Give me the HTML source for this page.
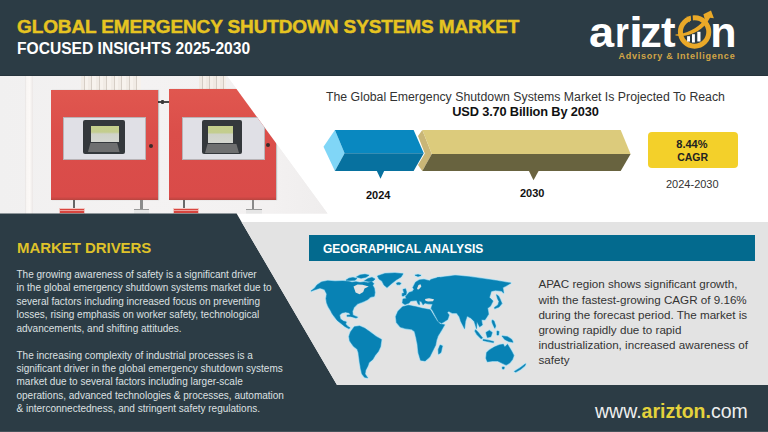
<!DOCTYPE html>
<html><head><meta charset="utf-8">
<style>
*{margin:0;padding:0;box-sizing:border-box}
html,body{width:768px;height:432px;overflow:hidden;background:#fff}
body{position:relative;font-family:"Liberation Sans",Arial,sans-serif}
.abs{position:absolute}
.lg{position:absolute;top:10.5px;font-size:43px;font-weight:700;color:#fff;line-height:1;transform-origin:0 0;white-space:nowrap}
.t{position:absolute;white-space:nowrap;line-height:1}
#hdr{left:0;top:0;width:768px;height:76px;background:#2c3c45}
#title1{left:17px;top:17px;font-size:19px;letter-spacing:-0.12px;-webkit-text-stroke:0.45px #e6c421;font-weight:700;color:#e6c421}
#title2{left:17px;top:40.5px;font-size:15.6px;font-weight:700;color:#fff}
#photo{left:0;top:76px;width:340px;height:138px;clip-path:polygon(0 0,227px 0,327.5px 137.5px,0 138px);background:#f1efef;overflow:hidden}
#dark{left:0;top:0;width:768px;height:432px;background:#2c3c45;clip-path:polygon(0 213.5px,236.6px 213.5px,337px 385px,768px 385px,768px 432px,0 432px)}
#gray{left:0;top:0;width:768px;height:432px;background:#e3e3e3;clip-path:polygon(241.6px 222px,768px 222px,768px 385px,337px 385px)}
#geohdr{left:309px;top:234.8px;width:446px;height:26.2px;background:#036a8e}
#geohdr span{position:absolute;left:14px;top:8.3px;font-size:12px;font-weight:700;color:#fff;line-height:1}
.para{position:absolute;left:16.5px;font-size:10px;color:#dde0e2;line-height:13.45px;white-space:nowrap}
#md{left:17px;top:239.6px;font-size:15px;letter-spacing:-0.05px;font-weight:700;color:#dfc22a}
.geo{position:absolute;left:538.4px;top:276.3px;font-size:11.65px;color:#333;line-height:15.2px;white-space:nowrap}
#proj1{left:326px;top:91.4px;font-size:12.3px;color:#333}
#proj2{left:452.2px;top:106.2px;font-size:12.8px;letter-spacing:-0.15px;font-weight:700;color:#111}
#cagr{left:647.6px;top:132px;width:90.4px;height:36px;background:#f3d02a;border-radius:4px}
#footer-url{left:595px;top:402.3px;font-size:19.5px;color:#eee}
#footer-url b{color:#e4d23c}
</style></head>
<body>
<div id="hdr" class="abs"></div>
<div class="abs" style="left:0;top:75px;width:768px;height:1px;background:#26343c"></div>
<div id="title1" class="t">GLOBAL EMERGENCY SHUTDOWN SYSTEMS MARKET</div>
<div id="title2" class="t">FOCUSED INSIGHTS 2025-2030</div>

<!-- logo -->
<div class="lg" style="left:588.7px;transform:scaleX(1.05)">a</div>
<div class="lg" style="left:615.2px;transform:scaleX(0.83)">r</div>
<div class="lg" style="left:628.75px;transform:scaleX(1.17)">i</div>
<div class="lg" style="left:640.2px">z</div>
<div class="lg" style="left:660.5px;transform:scaleX(1.02)">t</div>
<div class="lg" style="left:710.3px">n</div>
<svg class="abs" style="left:668px;top:0" width="52" height="52" viewBox="668 0 52 52">
  <circle cx="694.6" cy="32" r="14.2" fill="none" stroke="#eaa928" stroke-width="5"/>
  <polygon points="690.6,14 692.6,14 693,21.5 691.2,21.5" fill="#2c3c45"/>
  <polygon points="686.5,16.5 690.8,17.5 689.5,22.5" fill="#eaa928"/>
  <rect x="687.1" y="36.2" width="2.9" height="5.4" fill="#fff"/>
  <rect x="692" y="34.2" width="2.9" height="8.3" fill="#fff"/>
  <rect x="697.3" y="31.8" width="3.2" height="9.7" fill="#fff"/>
  <path d="M675.5 34.6 C686 33.8 697 29.2 704.8 19.6 L703.4 14.2 L711 10.6 L713.9 18.3 L710 17.8 C703 31.5 689 37.6 675.5 35.6Z" fill="#eaa928"/>
</svg>
<div class="t" style="left:618.4px;top:51.8px;font-size:9px;font-weight:700;color:#d3a645;letter-spacing:0.76px">Advisory &amp; Intelligence</div>

<!-- photo -->
<div id="photo" class="abs">
  <div class="abs" style="left:0;top:0;width:340px;height:138px;background:linear-gradient(90deg,#f1f0f0 0,#f4f2f2 40%,#f3f1f1 80%,#eeecec 100%)"></div>
  <div class="abs" style="left:25.2px;top:0;width:7.4px;height:138px;background:linear-gradient(90deg,#e6e3e2 0,#f9f6f4 20%,#fcf9f7 60%,#ebe7e6 100%)"></div>
  <!-- pipes top -->
  <div class="abs" style="left:81px;top:0;width:60px;height:14px;background:repeating-linear-gradient(90deg,#f1ebe5 0 3px,#d6cec6 3px 4px,#f7f2ed 4px 7.5px)"></div>
  <div class="abs" style="left:198.5px;top:0;width:27.5px;height:14px;background:repeating-linear-gradient(90deg,#f0e9e2 0 3px,#d3cbc3 3px 4px,#f5efe9 4px 7px)"></div>
  <!-- clip between panels -->
  <div class="abs" style="left:158px;top:25px;width:11.5px;height:2px;background:#4a4a4a"></div><div class="abs" style="left:160.5px;top:23.8px;width:3px;height:4.4px;background:#3a3a3a;border-radius:1px"></div>
  <!-- panel 1 -->
  <div class="abs" style="left:50.5px;top:14px;width:107.5px;height:110px;background:linear-gradient(180deg,#e0574f 0,#db4e4a 40%,#d94b49 97%,#b9443f 100%);box-shadow:1px 0 1px rgba(0,0,0,.2)"></div>
  <div class="abs" style="left:62.5px;top:40.7px;width:83.5px;height:43.5px;background:#e0e0e6;border:1px solid #b9b3b6"></div>
  <div class="abs" style="left:83px;top:44.2px;width:41.6px;height:33.5px;background:#34383c;border-radius:2px"></div>
  <div class="abs" style="left:90.9px;top:49.6px;width:28px;height:16.3px;background:linear-gradient(180deg,#c6d08c 0,#c3cd8e 38%,#cfd2c9 50%,#d4d6d0 100%)"></div>
  <div class="abs" style="left:88px;top:66.5px;width:31.6px;height:9.5px;background:#6e6f70;clip-path:polygon(8% 0,92% 0,100% 100%,0 100%)"></div>
  <div class="abs" style="left:148.5px;top:67.5px;width:4px;height:4px;border-radius:50%;background:#3a2a2a"></div>
  <!-- bottom items panel1 -->
  <div class="abs" style="left:72.6px;top:124px;width:2.6px;height:8px;background:#666"></div>
  <div class="abs" style="left:58.7px;top:131.6px;width:26.6px;height:6.4px;background:linear-gradient(180deg,#d8453f 0 30%,#eaa29d 30% 62%,#d8453f 62%);border:1px solid #f0c4c0"></div>
  <div class="abs" style="left:139.5px;top:124px;width:3px;height:9px;background:#8c8c8c"></div>
  <div class="abs" style="left:133.7px;top:133px;width:15.7px;height:5px;background:#e6e6e6;border-top:1px solid #9a9a9a"></div>
  <!-- panel 2 -->
  <div class="abs" style="left:169.4px;top:13.4px;width:107px;height:110.5px;background:linear-gradient(180deg,#e0574f 0,#db4e4a 40%,#d94b49 97%,#b9443f 100%);box-shadow:1px 0 1px rgba(0,0,0,.2)"></div>
  <div class="abs" style="left:182.1px;top:40.9px;width:83.1px;height:42.8px;background:#e0e0e6;border:1px solid #b9b3b6"></div>
  <div class="abs" style="left:202.3px;top:44.1px;width:39.6px;height:34.1px;background:#34383c;border-radius:2px"></div>
  <div class="abs" style="left:207.7px;top:49.5px;width:25.5px;height:17.5px;background:linear-gradient(180deg,#c6d08c 0,#c3cd8e 38%,#cfd2c9 50%,#d4d6d0 100%)"></div>
  <div class="abs" style="left:205px;top:67.5px;width:34px;height:9.5px;background:#6e6f70;clip-path:polygon(8% 0,92% 0,100% 100%,0 100%)"></div>
  <div class="abs" style="left:266.4px;top:66.7px;width:4px;height:4px;border-radius:50%;background:#3a2a2a"></div>
  <div class="abs" style="left:182.8px;top:124px;width:2.6px;height:8px;background:#6a6a6a"></div>
  <div class="abs" style="left:172.8px;top:131.6px;width:26.6px;height:6.4px;background:linear-gradient(180deg,#d8453f 0 30%,#eaa29d 30% 62%,#d8453f 62%);border:1px solid #f0c4c0"></div>
  <div class="abs" style="left:251.5px;top:124px;width:2.5px;height:9px;background:#8a8a8a"></div>
  <div class="abs" style="left:246px;top:133px;width:16px;height:5px;background:#e6e6e6;border-top:1px solid #9a9a9a"></div>
</div>

<div id="dark" class="abs"></div>
<div id="gray" class="abs"></div>

<!-- projection -->
<div id="proj1" class="t">The Global Emergency Shutdown Systems Market Is Projected To Reach</div>
<div id="proj2" class="t">USD 3.70 Billion By 2030</div>

<svg class="abs" style="left:0;top:0" width="768" height="432" viewBox="0 0 768 432">
  <!-- blue arrow -->
  <polygon points="323.5,146.7 334.9,129.9 344.6,153.3 334.9,170.9" fill="#80d6f7"/>
  <polygon points="334.9,129.9 413.6,129.9 423.8,153.3 344.6,153.3" fill="#0988c0"/>
  <polygon points="344.6,153.3 423.8,153.3 413.6,170.9 334.9,170.9" fill="#07719f"/>
  <polygon points="376.6,170.6 384.4,170.6 380.5,178.7" fill="#07719f"/>
  <!-- gold arrow -->
  <polygon points="418,136 422.3,129.9 431.8,154.1 422.3,170.9 418,165 424.8,153.5" fill="#c9b677"/>
  <polygon points="422.3,129.9 620.7,129.9 630.6,154.1 431.8,154.1" fill="#dccb7c"/>
  <polygon points="431.8,154.1 630.6,154.1 620.7,170.9 422.3,170.9" fill="#68633f"/>
  <polygon points="528.7,170.6 538.9,170.6 533.5,180.2" fill="#6b6440"/>
</svg>
<div class="t" style="left:366px;top:190px;font-size:11px;font-weight:700;color:#111">2024</div>
<div class="t" style="left:520px;top:188px;font-size:11px;font-weight:700;color:#111">2030</div>
<div id="cagr" class="abs"></div>
<div class="t" style="left:676.3px;top:139px;font-size:11px;font-weight:700;color:#222">8.44%</div>
<div class="t" style="left:677.2px;top:152.3px;font-size:10.5px;font-weight:700;color:#222">CAGR</div>
<div class="t" style="left:666px;top:179px;font-size:11px;color:#333">2024-2030</div>

<!-- market drivers -->
<div id="md" class="t">MARKET DRIVERS</div>
<div class="para" style="top:267.8px">The growing awareness of safety is a significant driver<br>in the global emergency shutdown systems market due to<br>several factors including increased focus on preventing<br>losses, rising emphasis on worker safety, technological<br>advancements, and shifting attitudes.</div>
<div class="para" style="top:348.5px;line-height:13.36px">The increasing complexity of industrial processes is a<br>significant driver in the global emergency shutdown systems<br>market due to several factors including larger-scale<br>operations, advanced technologies &amp; processes, automation<br>&amp; interconnectedness, and stringent safety regulations.</div>

<!-- geo -->
<div id="geohdr" class="abs"><span>GEOGRAPHICAL ANALYSIS</span></div>
<!-- MAP -->
<svg class="abs" style="left:0;top:0" width="768" height="432" viewBox="0 0 768 432">
  <path d="M311.0,291.1 L314.8,288.0 L317.0,285.0 L321.5,282.0 L327.5,280.8 L335.1,281.3 L342.6,281.0 L347.5,281.2 L352.0,282.3 L356.0,281.8 L360.0,282.6 L364.0,282.0 L368.0,282.8 L371.5,281.5 L373.8,283.5 L372.7,285.5 L374.2,288.0 L374.9,292.6 L374.2,296.3 L370.4,297.1 L368.2,299.3 L363.6,301.6 L357.6,303.8 L353.9,307.6 L352.4,311.4 L352.8,314.5 L351.8,316.8 L350.5,315.2 L349.4,312.9 L345.6,312.1 L341.8,312.9 L339.6,315.1 L340.3,318.9 L343.3,321.1 L346.3,321.9 L345.6,324.1 L347.8,326.4 L350.1,327.9 L348.6,328.6 L344.8,326.4 L341.1,323.4 L337.3,320.4 L334.3,316.6 L332.1,313.6 L330.6,310.6 L328.3,306.8 L326.8,303.1 L326.0,298.6 L326.8,294.1 L324.5,289.5 L320.0,288.0 L315.5,289.5Z M346.0,280.2 L349.0,278.2 L353.0,277.6 L357.0,278.4 L355.0,280.2 L350.0,280.6Z M356.5,277.0 L360.0,275.0 L365.0,274.3 L369.0,275.2 L366.0,277.2 L361.0,278.2Z M364.5,280.8 L368.0,278.6 L372.0,277.4 L375.0,279.0 L373.0,281.0 L369.0,281.6Z M377.5,276.0 L385.0,273.5 L395.0,273.0 L403.0,273.8 L401.0,277.0 L396.0,280.0 L391.0,284.0 L387.0,287.5 L384.0,285.0 L382.0,281.0 L379.0,279.0Z M396.5,283.0 L399.0,282.4 L401.0,283.3 L400.0,284.6 L397.0,284.6Z M347.0,315.2 L352.0,314.8 L357.6,317.2 L356.0,318.0 L351.0,316.4 L347.0,316.3Z M350.5,332.0 L354.3,326.8 L359.5,326.0 L364.8,328.3 L370.1,332.0 L376.1,336.5 L381.4,339.5 L380.5,346.5 L378.4,351.2 L375.0,355.5 L372.7,359.5 L369.0,362.5 L367.8,366.0 L365.6,370.2 L365.0,374.0 L367.6,377.8 L364.5,377.2 L362.0,374.0 L360.8,369.0 L359.5,361.0 L358.5,353.1 L357.3,349.3 L353.5,346.3 L349.8,341.1 L349.0,336.5Z M403.0,289.5 L405.5,288.8 L406.5,292.0 L406.0,295.0 L403.5,295.3 L404.0,292.5Z M402.2,293.5 L403.8,293.2 L403.8,296.0 L402.3,296.0Z M415.0,275.2 L418.0,274.6 L421.0,275.4 L418.0,276.4Z M435.0,279.8 L437.5,277.6 L440.0,277.4 L437.0,279.2 L435.5,280.6Z M437.1,277.8 L443.1,277.0 L449.1,276.3 L455.2,275.5 L464.2,276.3 L470.7,276.9 L483.2,278.7 L495.6,280.5 L510.8,283.1 L506.3,285.8 L502.8,287.6 L503.6,292.9 L501.5,291.0 L495.6,290.3 L491.2,291.2 L489.4,297.4 L493.0,301.0 L490.3,306.3 L487.6,308.1 L488.5,314.3 L485.0,319.7 L481.4,319.7 L482.3,325.0 L479.6,326.8 L476.9,321.4 L476.5,328.6 L474.3,321.4 L470.7,317.9 L467.1,316.1 L465.3,321.4 L464.5,328.6 L460.9,321.4 L459.5,317.0 L456.7,313.1 L452.1,313.1 L448.8,311.2 L447.2,312.6 L449.1,315.0 L447.6,319.5 L441.6,323.3 L438.6,321.8 L432.6,310.5 L431.1,308.6 L432.6,304.1 L428.0,303.8 L425.0,303.0 L423.0,304.8 L421.5,301.8 L419.2,300.8 L419.6,304.6 L418.4,304.2 L416.5,300.3 L414.5,300.6 L410.5,300.9 L409.0,303.0 L405.0,304.6 L402.5,303.0 L403.0,299.0 L406.5,298.5 L405.5,296.8 L407.0,295.0 L409.0,292.5 L412.5,291.5 L413.5,289.8 L414.2,289.3 L412.8,287.7 L415.6,282.2 L419.3,279.9 L423.9,279.4 L429.5,280.8 L431.0,279.5Z M402.5,306.8 L408.5,305.3 L416.1,306.8 L422.1,308.3 L430.3,309.8 L433.4,315.0 L437.1,321.1 L440.1,324.1 L444.6,324.8 L441.6,330.1 L437.9,336.1 L436.4,340.6 L435.6,345.1 L432.6,351.1 L429.6,357.1 L425.1,360.9 L420.6,360.2 L418.3,352.6 L417.6,345.1 L416.1,337.6 L414.6,331.6 L411.5,329.3 L405.5,328.6 L400.3,327.1 L396.5,322.6 L395.8,316.5 L398.0,311.3Z M440.1,345.1 L442.4,345.9 L440.9,352.6 L438.6,354.1 L438.3,349.6Z M486.7,352.6 L489.4,349.9 L494.3,347.1 L499.2,345.0 L503.3,344.3 L504.7,347.1 L507.5,344.3 L509.6,347.8 L511.7,351.3 L513.8,355.4 L512.4,359.6 L509.6,363.1 L506.1,365.1 L501.9,363.1 L497.8,361.0 L492.2,361.0 L487.4,361.7 L486.0,358.2Z M502.3,367.0 L504.3,367.0 L504.0,369.0 L502.5,369.0Z M514.4,371.4 L520.0,367.9 L525.6,363.8 L524.9,365.8 L520.7,369.3 L515.8,372.1Z M502.0,336.0 L507.5,336.7 L511.7,339.4 L513.0,342.2 L508.9,341.5 L504.7,339.4Z M486.0,332.5 L489.4,330.4 L492.2,332.5 L490.8,336.7 L487.4,337.4Z M475.6,329.7 L478.3,332.5 L482.5,338.0 L481.1,338.8 L476.9,334.6 L474.9,331.1Z M483.2,339.4 L488.0,340.2 L493.6,341.6 L493.4,342.6 L488.0,341.6 L483.0,340.4Z M492.2,320.0 L494.0,321.0 L495.7,326.0 L494.8,328.3 L493.2,325.0 L492.0,322.0Z M496.5,294.7 L498.5,296.0 L500.0,299.0 L501.9,303.6 L499.0,307.0 L494.7,308.6 L494.5,307.4 L498.0,305.0 L499.0,301.5 L497.5,298.5Z M497.0,331.0 L499.0,331.5 L498.5,335.0 L497.0,335.0Z" fill="#b8e2f3" stroke="#bde5f5" stroke-width="2.2" stroke-linejoin="round"/>
  <path d="M311.0,291.1 L314.8,288.0 L317.0,285.0 L321.5,282.0 L327.5,280.8 L335.1,281.3 L342.6,281.0 L347.5,281.2 L352.0,282.3 L356.0,281.8 L360.0,282.6 L364.0,282.0 L368.0,282.8 L371.5,281.5 L373.8,283.5 L372.7,285.5 L374.2,288.0 L374.9,292.6 L374.2,296.3 L370.4,297.1 L368.2,299.3 L363.6,301.6 L357.6,303.8 L353.9,307.6 L352.4,311.4 L352.8,314.5 L351.8,316.8 L350.5,315.2 L349.4,312.9 L345.6,312.1 L341.8,312.9 L339.6,315.1 L340.3,318.9 L343.3,321.1 L346.3,321.9 L345.6,324.1 L347.8,326.4 L350.1,327.9 L348.6,328.6 L344.8,326.4 L341.1,323.4 L337.3,320.4 L334.3,316.6 L332.1,313.6 L330.6,310.6 L328.3,306.8 L326.8,303.1 L326.0,298.6 L326.8,294.1 L324.5,289.5 L320.0,288.0 L315.5,289.5Z M346.0,280.2 L349.0,278.2 L353.0,277.6 L357.0,278.4 L355.0,280.2 L350.0,280.6Z M356.5,277.0 L360.0,275.0 L365.0,274.3 L369.0,275.2 L366.0,277.2 L361.0,278.2Z M364.5,280.8 L368.0,278.6 L372.0,277.4 L375.0,279.0 L373.0,281.0 L369.0,281.6Z M377.5,276.0 L385.0,273.5 L395.0,273.0 L403.0,273.8 L401.0,277.0 L396.0,280.0 L391.0,284.0 L387.0,287.5 L384.0,285.0 L382.0,281.0 L379.0,279.0Z M396.5,283.0 L399.0,282.4 L401.0,283.3 L400.0,284.6 L397.0,284.6Z M347.0,315.2 L352.0,314.8 L357.6,317.2 L356.0,318.0 L351.0,316.4 L347.0,316.3Z M350.5,332.0 L354.3,326.8 L359.5,326.0 L364.8,328.3 L370.1,332.0 L376.1,336.5 L381.4,339.5 L380.5,346.5 L378.4,351.2 L375.0,355.5 L372.7,359.5 L369.0,362.5 L367.8,366.0 L365.6,370.2 L365.0,374.0 L367.6,377.8 L364.5,377.2 L362.0,374.0 L360.8,369.0 L359.5,361.0 L358.5,353.1 L357.3,349.3 L353.5,346.3 L349.8,341.1 L349.0,336.5Z M403.0,289.5 L405.5,288.8 L406.5,292.0 L406.0,295.0 L403.5,295.3 L404.0,292.5Z M402.2,293.5 L403.8,293.2 L403.8,296.0 L402.3,296.0Z M415.0,275.2 L418.0,274.6 L421.0,275.4 L418.0,276.4Z M435.0,279.8 L437.5,277.6 L440.0,277.4 L437.0,279.2 L435.5,280.6Z M437.1,277.8 L443.1,277.0 L449.1,276.3 L455.2,275.5 L464.2,276.3 L470.7,276.9 L483.2,278.7 L495.6,280.5 L510.8,283.1 L506.3,285.8 L502.8,287.6 L503.6,292.9 L501.5,291.0 L495.6,290.3 L491.2,291.2 L489.4,297.4 L493.0,301.0 L490.3,306.3 L487.6,308.1 L488.5,314.3 L485.0,319.7 L481.4,319.7 L482.3,325.0 L479.6,326.8 L476.9,321.4 L476.5,328.6 L474.3,321.4 L470.7,317.9 L467.1,316.1 L465.3,321.4 L464.5,328.6 L460.9,321.4 L459.5,317.0 L456.7,313.1 L452.1,313.1 L448.8,311.2 L447.2,312.6 L449.1,315.0 L447.6,319.5 L441.6,323.3 L438.6,321.8 L432.6,310.5 L431.1,308.6 L432.6,304.1 L428.0,303.8 L425.0,303.0 L423.0,304.8 L421.5,301.8 L419.2,300.8 L419.6,304.6 L418.4,304.2 L416.5,300.3 L414.5,300.6 L410.5,300.9 L409.0,303.0 L405.0,304.6 L402.5,303.0 L403.0,299.0 L406.5,298.5 L405.5,296.8 L407.0,295.0 L409.0,292.5 L412.5,291.5 L413.5,289.8 L414.2,289.3 L412.8,287.7 L415.6,282.2 L419.3,279.9 L423.9,279.4 L429.5,280.8 L431.0,279.5Z M402.5,306.8 L408.5,305.3 L416.1,306.8 L422.1,308.3 L430.3,309.8 L433.4,315.0 L437.1,321.1 L440.1,324.1 L444.6,324.8 L441.6,330.1 L437.9,336.1 L436.4,340.6 L435.6,345.1 L432.6,351.1 L429.6,357.1 L425.1,360.9 L420.6,360.2 L418.3,352.6 L417.6,345.1 L416.1,337.6 L414.6,331.6 L411.5,329.3 L405.5,328.6 L400.3,327.1 L396.5,322.6 L395.8,316.5 L398.0,311.3Z M440.1,345.1 L442.4,345.9 L440.9,352.6 L438.6,354.1 L438.3,349.6Z M486.7,352.6 L489.4,349.9 L494.3,347.1 L499.2,345.0 L503.3,344.3 L504.7,347.1 L507.5,344.3 L509.6,347.8 L511.7,351.3 L513.8,355.4 L512.4,359.6 L509.6,363.1 L506.1,365.1 L501.9,363.1 L497.8,361.0 L492.2,361.0 L487.4,361.7 L486.0,358.2Z M502.3,367.0 L504.3,367.0 L504.0,369.0 L502.5,369.0Z M514.4,371.4 L520.0,367.9 L525.6,363.8 L524.9,365.8 L520.7,369.3 L515.8,372.1Z M502.0,336.0 L507.5,336.7 L511.7,339.4 L513.0,342.2 L508.9,341.5 L504.7,339.4Z M486.0,332.5 L489.4,330.4 L492.2,332.5 L490.8,336.7 L487.4,337.4Z M475.6,329.7 L478.3,332.5 L482.5,338.0 L481.1,338.8 L476.9,334.6 L474.9,331.1Z M483.2,339.4 L488.0,340.2 L493.6,341.6 L493.4,342.6 L488.0,341.6 L483.0,340.4Z M492.2,320.0 L494.0,321.0 L495.7,326.0 L494.8,328.3 L493.2,325.0 L492.0,322.0Z M496.5,294.7 L498.5,296.0 L500.0,299.0 L501.9,303.6 L499.0,307.0 L494.7,308.6 L494.5,307.4 L498.0,305.0 L499.0,301.5 L497.5,298.5Z M497.0,331.0 L499.0,331.5 L498.5,335.0 L497.0,335.0Z" fill="#0882b4" stroke="#0882b4" stroke-width="0.5" stroke-linejoin="round"/>
  <path d="M353.5,286.5 L357.5,284.6 L362.5,284.8 L368.8,286.6 L364.5,288.6 L363.2,292.0 L359.5,294.3 L355.6,292.4Z M425.0,299.0 L429.0,298.3 L434.0,299.2 L433.0,301.3 L428.0,301.6 L425.5,300.8Z M417.0,288.6 L418.5,285.0 L420.5,284.2 L421.4,286.2 L420.0,288.2 L418.0,289.8Z" fill="#e3e3e3"/>
</svg>
<!-- /MAP -->
<div class="geo">APAC region shows significant growth,<br>with the fastest-growing CAGR of 9.16%<br>during the forecast period. The market is<br>growing rapidly due to rapid<br>industrialization, increased awareness of<br>safety</div>

<!-- footer -->
<div class="abs" style="left:0;top:431px;width:768px;height:1px;background:#47535b"></div>
<div id="footer-url" class="t">www.<b>arizton.</b>com</div>
</body></html>
